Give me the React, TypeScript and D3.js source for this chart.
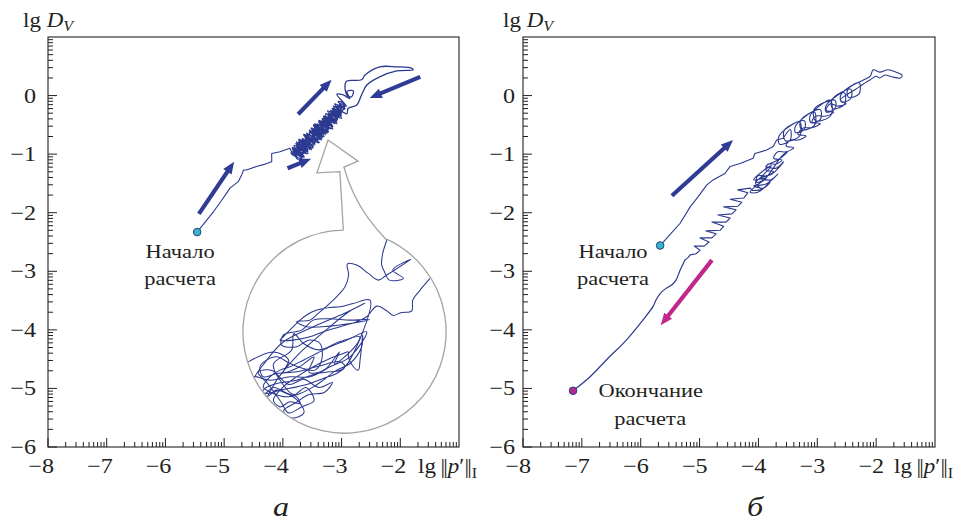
import React, { useEffect, useRef } from "react";
import * as d3 from "d3";

type Pt = [number, number];

// axis ticks (lg values)
const xTickValues = [-8, -7, -6, -5, -4, -3, -2];
const yTickValues = [0, -1, -2, -3, -4, -5, -6];
const minorMultipliers = [2, 3, 4, 5, 6, 7, 8, 9];

// panel "а": trajectory (lg||p'||, lg D_V)
const trajAClimb: Pt[] = [
  [-5.46, -2.33], [-5.33, -2.17], [-5.18, -1.98], [-5.05, -1.8], [-4.9, -1.58], [-4.76, -1.47],
  [-4.7, -1.35], [-4.67, -1.27], [-4.62, -1.27], [-4.45, -1.21], [-4.3, -1.17], [-4.19, -1.13],
  [-4.19, -0.99], [-4.05, -0.96], [-3.88, -0.9], [-3.83, -1.01],
];
const trajAClusterUp: Pt[] = [
  [-3.76, -1.04], [-3.84, -0.9], [-3.65, -1.05], [-3.81, -0.91], [-3.64, -0.99], [-3.78, -0.82],
  [-3.58, -0.96], [-3.73, -0.89], [-3.58, -0.92], [-3.72, -0.74], [-3.5, -0.9], [-3.67, -0.75],
  [-3.47, -0.85], [-3.63, -0.67], [-3.52, -0.84], [-3.59, -0.65], [-3.38, -0.8], [-3.55, -0.67],
  [-3.37, -0.75], [-3.52, -0.56], [-3.34, -0.7], [-3.53, -0.63], [-3.3, -0.7], [-3.46, -0.48],
  [-3.26, -0.64], [-3.41, -0.55], [-3.22, -0.62], [-3.39, -0.43], [-3.19, -0.55], [-3.35, -0.43],
  [-3.15, -0.53], [-3.29, -0.35], [-3.21, -0.51], [-3.27, -0.31], [-3.08, -0.44], [-3.25, -0.37],
  [-3.07, -0.41], [-3.19, -0.25], [-3.03, -0.35], [-3.15, -0.25], [-3.0, -0.3], [-3.1, -0.18],
  [-2.95, -0.23], [-3.08, -0.26], [-3.02, -0.14], [-2.92, -0.18],
];
const trajAExcursion: Pt[] = [
  [-3.08, 0.02], [-2.97, 0.01], [-2.86, -0.05], [-2.91, 0.07], [-2.8, 0.08], [-2.83, -0.02],
  [-2.91, 0.01], [-2.94, 0.19], [-2.91, 0.25], [-2.66, 0.27], [-2.6, 0.35], [-2.35, 0.49],
  [-2.06, 0.49], [-1.81, 0.47], [-1.78, 0.44], [-2.06, 0.42], [-2.35, 0.32], [-2.57, 0.18],
  [-2.66, 0.01], [-2.74, -0.16], [-2.89, -0.22],
];
const trajAClusterDown: Pt[] = [
  [-2.91, -0.31], [-3.14, -0.18], [-3.0, -0.39], [-3.24, -0.26], [-3.08, -0.48], [-3.31, -0.35],
  [-3.15, -0.57], [-3.39, -0.45], [-3.24, -0.64], [-3.48, -0.5], [-3.33, -0.73], [-3.55, -0.59],
  [-3.39, -0.81], [-3.64, -0.66], [-3.49, -0.89], [-3.73, -0.75], [-3.57, -0.99], [-3.81, -0.85],
  [-3.67, -1.07], [-3.83, -0.95], [-3.75, -1.09],
];
const trajAClusterScribble: Pt[] = [
  [-3.8, -0.95], [-3.7, -1.02], [-3.74, -0.86], [-3.62, -0.88], [-3.69, -0.8], [-3.55, -0.92],
  [-3.6, -0.74], [-3.48, -0.8], [-3.58, -0.7], [-3.44, -0.76], [-3.5, -0.62], [-3.4, -0.72],
  [-3.47, -0.58], [-3.33, -0.66], [-3.42, -0.52], [-3.28, -0.6], [-3.36, -0.48], [-3.22, -0.58],
  [-3.33, -0.4], [-3.17, -0.5], [-3.26, -0.36], [-3.12, -0.44], [-3.22, -0.3], [-3.06, -0.38],
  [-3.16, -0.22], [-3.02, -0.28], [-3.12, -0.14], [-2.98, -0.2], [-3.06, -0.1], [-2.96, -0.14],
  [-3.2, -0.42], [-3.45, -0.68], [-3.66, -0.9], [-3.86, -0.98],
];
const trajAClusterMid: Pt[] = [
  [-3.68, -1.08], [-3.84, -0.88], [-3.63, -1.05], [-3.78, -0.86], [-3.6, -1.0], [-3.77, -0.79],
  [-3.57, -0.95], [-3.72, -0.76], [-3.51, -0.93], [-3.67, -0.73], [-3.48, -0.88], [-3.65, -0.67],
  [-3.45, -0.83], [-3.6, -0.64], [-3.39, -0.79], [-3.54, -0.6], [-3.34, -0.76], [-3.51, -0.55],
  [-3.32, -0.7], [-3.47, -0.51], [-3.27, -0.67], [-3.42, -0.48], [-3.23, -0.61], [-3.38, -0.42],
  [-3.19, -0.57], [-3.33, -0.39], [-3.16, -0.52], [-3.29, -0.35], [-3.12, -0.48], [-3.24, -0.32],
  [-3.08, -0.42], [-3.19, -0.27], [-3.04, -0.38], [-3.14, -0.24], [-3.01, -0.33], [-3.1, -0.2],
  [-2.98, -0.28], [-3.05, -0.17], [-2.94, -0.22], [-3.12, -0.3], [-3.3, -0.5], [-3.5, -0.72],
  [-3.7, -0.92], [-3.8, -1.0],
];
const trajAClusterEnd: Pt[] = [
  [-3.77, -0.91], [-3.62, -0.96], [-3.73, -0.79], [-3.55, -0.87], [-3.62, -0.72], [-3.45, -0.81],
  [-3.55, -0.63], [-3.38, -0.7], [-3.46, -0.56], [-3.29, -0.63], [-3.37, -0.49], [-3.21, -0.55],
  [-3.31, -0.39], [-3.14, -0.46], [-3.19, -0.31], [-3.01, -0.35], [-3.05, -0.19], [-2.95, -0.19],
];

// magnified inset of panel "а", in circle units (u right, v up, radius 1)
const insetA: Pt[] = [
  [0.415, 0.895], [0.376, 0.77], [0.366, 0.655], [0.389, 0.599], [0.442, 0.507], [0.58, 0.524],
  [0.475, 0.606], [0.652, 0.711], [0.415, 0.557], [0.333, 0.507], [0.235, 0.573], [0.12, 0.655],
  [0.028, 0.665], [0.041, 0.557], [0.005, 0.442], [-0.084, 0.337], [-0.176, 0.251], [-0.268, 0.172],
  [-0.34, 0.113], [-0.471, 0.097], [-0.373, 0.048], [-0.143, 0.054], [0.021, 0.074], [0.245, 0.12],
  [0.054, 0.113], [-0.143, 0.126], [-0.307, 0.113], [-0.422, 0.015], [-0.603, -0.034], [-0.619, -0.133],
  [-0.471, -0.149], [-0.356, -0.084], [-0.241, -0.117], [-0.225, -0.281], [-0.291, -0.379], [-0.406, -0.363],
  [-0.537, -0.314], [-0.668, -0.248], [-0.767, -0.281], [-0.832, -0.346], [-0.8, -0.445], [-0.668, -0.412],
  [-0.471, -0.396], [-0.274, -0.346], [-0.044, -0.297], [0.005, -0.346], [-0.077, -0.412], [-0.209, -0.461],
  [-0.34, -0.511], [-0.471, -0.544], [-0.635, -0.576], [-0.767, -0.609], [-0.865, -0.544], [-0.898, -0.445],
  [-0.734, -0.478], [-0.537, -0.445], [-0.34, -0.445], [-0.143, -0.346], [0.054, -0.248], [0.218, -0.002],
  [0.021, -0.084], [-0.143, -0.149], [-0.274, -0.215], [-0.406, -0.281], [-0.537, -0.346], [-0.635, -0.379],
  [-0.734, -0.445], [-0.8, -0.544], [-0.701, -0.609], [-0.57, -0.642], [-0.438, -0.609], [-0.307, -0.544],
  [-0.209, -0.478], [-0.077, -0.379], [0.054, -0.314], [0.169, -0.149], [0.179, -0.034], [0.153, -0.281],
  [0.136, -0.379], [0.087, -0.346], [0.038, -0.248], [0.038, -0.199], [-0.011, -0.215], [-0.143, -0.264],
  [-0.307, -0.346], [-0.471, -0.445], [-0.603, -0.544], [-0.701, -0.675], [-0.635, -0.741], [-0.537, -0.691],
  [-0.438, -0.708], [-0.471, -0.642], [-0.57, -0.609], [-0.668, -0.576], [-0.767, -0.642], [-0.8, -0.576],
  [-0.668, -0.511], [-0.471, -0.478], [-0.274, -0.412], [-0.143, -0.396], [-0.011, -0.363], [0.251, 0.31],
  [0.087, 0.277], [-0.044, 0.245], [-0.143, 0.238], [-0.274, 0.212], [-0.373, 0.163], [-0.438, 0.113],
  [-0.603, -0.051], [-0.635, -0.084], [-0.504, -0.084], [-0.34, -0.051], [-0.209, -0.002], [-0.044, 0.048],
  [0.12, 0.097], [0.218, 0.146], [0.317, 0.251], [0.415, 0.205], [0.481, 0.159], [0.553, 0.186],
  [0.662, 0.205], [0.672, 0.31], [0.744, 0.409], [0.842, 0.524],
];
const insetA2: Pt[] = [
  [-0.95, -0.3], [-0.7, -0.2], [-0.55, -0.28], [-0.6, -0.4], [-0.45, -0.35], [-0.3, -0.25],
  [-0.35, -0.4], [-0.2, -0.38], [-0.05, -0.2], [-0.1, -0.32], [0.1, -0.15], [0.15, -0.05],
  [-0.05, -0.1], [-0.25, -0.18], [-0.4, -0.12], [-0.5, -0.02], [-0.52, -0.18], [-0.7, -0.32],
  [-0.62, -0.5], [-0.5, -0.62], [-0.38, -0.55], [-0.3, -0.68], [-0.42, -0.74], [-0.55, -0.8],
  [-0.62, -0.7], [-0.75, -0.52], [-0.85, -0.4], [-0.72, -0.38], [-0.55, -0.52], [-0.4, -0.47],
  [-0.25, -0.55], [-0.12, -0.5], [-0.2, -0.6], [-0.35, -0.62], [-0.48, -0.7], [-0.6, -0.78],
  [-0.52, -0.85], [-0.4, -0.8], [-0.46, -0.68], [-0.58, -0.6], [-0.7, -0.55], [-0.8, -0.62],
  [-0.9, -0.5], [-0.78, -0.3], [-0.6, -0.1], [-0.3, 0.05], [0.0, 0.18], [0.2, 0.28], [0.05, 0.2],
  [-0.2, 0.0], [-0.45, -0.22], [-0.65, -0.45], [-0.82, -0.7], [-0.95, -0.6],
];
// grey callout outline (stem + arrowhead) and the magnifier circle, in data units
const calloutA: Pt[] = [
  [-2.97, -2.3], [-3.0, -1.78], [-3.03, -1.3], [-3.42, -1.32], [-3.23, -0.76], [-2.72, -1.12],
  [-2.96, -1.22], [-2.89, -1.44], [-2.8, -1.66], [-2.69, -1.87], [-2.55, -2.09], [-2.4, -2.28],
  [-2.23, -2.47],
];
const calloutCenterA: Pt = [-2.95, -4.03];
const calloutRadiusA = 1.73;

const arrowsA: { from: Pt; to: Pt }[] = [
  { from: [-5.43, -2.02], to: [-4.83, -1.13] },
  { from: [-3.74, -0.32], to: [-3.17, 0.27] },
  { from: [-1.66, 0.32], to: [-2.52, -0.04] },
  { from: [-3.92, -1.24], to: [-3.52, -1.08] },
];
const startA: Pt = [-5.46, -2.33];
const labelsA: { text: string; at: Pt }[] = [
  { text: "Начало", at: [-5.75, -2.77] },
  { text: "расчета", at: [-5.75, -3.23] },
];

// panel "б"
const trajBUpper: Pt[] = [
  [-5.67, -2.56], [-5.5, -2.37], [-5.33, -2.18], [-5.16, -1.9], [-5.02, -1.72], [-4.88, -1.53],
  [-4.77, -1.44], [-4.57, -1.33], [-4.48, -1.21], [-4.31, -1.16], [-4.09, -1.07], [-4.06, -0.99],
  [-3.86, -0.93], [-3.75, -0.87], [-3.69, -0.76], [-3.58, -0.73],
];
const trajBBandUp: Pt[] = [
  [-3.46, -0.58], [-3.46, -0.76], [-3.64, -0.83], [-3.65, -0.69],
  [-3.3, -0.45], [-3.3, -0.69], [-3.54, -0.77], [-3.56, -0.59],
  [-3.22, -0.43], [-3.22, -0.58], [-3.37, -0.63], [-3.37, -0.52],
  [-3.05, -0.28], [-3.05, -0.51], [-3.27, -0.58], [-3.28, -0.42],
  [-2.95, -0.24], [-2.95, -0.41], [-3.11, -0.46], [-3.12, -0.34],
  [-2.78, -0.08], [-2.77, -0.34], [-3.03, -0.43], [-3.05, -0.23],
  [-2.7, -0.08], [-2.7, -0.23], [-2.85, -0.28], [-2.85, -0.17],
  [-2.54, 0.05], [-2.54, -0.15], [-2.74, -0.22], [-2.75, -0.07],
  [-2.43, 0.11], [-2.43, -0.05], [-2.59, -0.11], [-2.6, 0.01],
  [-2.29, 0.22], [-2.29, 0.03], [-2.47, -0.03], [-2.48, 0.11],
  [-2.21, 0.27], [-2.1, 0.33],
];
const trajBTop: Pt[] = [
  [-2.05, 0.44], [-1.94, 0.4], [-1.8, 0.44], [-1.66, 0.4], [-1.56, 0.35], [-1.59, 0.3],
  [-1.73, 0.32], [-1.85, 0.35], [-1.94, 0.3], [-2.0, 0.33], [-2.1, 0.27], [-2.17, 0.23], [-2.27, 0.16],
];
const trajBBandDown: Pt[] = [
  [-2.36, 0.1], [-2.51, 0.01], [-2.61, -0.08], [-2.51, -0.14], [-2.65, -0.18], [-2.78, -0.14],
  [-2.85, -0.25], [-2.72, -0.28], [-2.85, -0.35], [-3.02, -0.35], [-3.09, -0.45], [-2.95, -0.48],
  [-3.09, -0.55], [-3.23, -0.55], [-3.33, -0.66], [-3.19, -0.69], [-3.33, -0.76], [-3.46, -0.76],
  [-3.53, -0.86], [-3.4, -0.89], [-3.53, -0.96], [-3.67, -0.96], [-3.74, -1.07], [-3.6, -1.1],
  [-3.7, -1.17], [-3.84, -1.17], [-3.87, -1.27], [-3.74, -1.3], [-3.87, -1.37], [-4.01, -1.37],
  [-4.04, -1.48], [-3.91, -1.44],
];
const trajBCluster: Pt[] = [
  [-3.77, -1.27], [-3.6, -1.03], [-3.5, -0.96], [-3.67, -1.1], [-3.87, -1.2], [-3.7, -1.24],
  [-3.57, -1.13], [-3.77, -1.34], [-3.97, -1.41], [-3.8, -1.44], [-3.67, -1.34], [-3.87, -1.51],
  [-4.08, -1.54], [-3.91, -1.58], [-3.8, -1.48], [-4.01, -1.65], [-4.14, -1.65], [-4.04, -1.54],
  [-3.87, -1.41], [-4.08, -1.44], [-3.94, -1.3], [-3.78, -1.2], [-3.92, -1.36], [-4.05, -1.5],
  [-3.95, -1.6], [-4.1, -1.62],
];
const trajBSaw: Pt[] = [
  [-4.14, -1.58], [-4.35, -1.61], [-4.18, -1.66], [-4.25, -1.75], [-4.48, -1.77], [-4.28, -1.82],
  [-4.35, -1.89], [-4.59, -1.9], [-4.38, -1.95], [-4.45, -2.02], [-4.69, -2.04], [-4.48, -2.09],
  [-4.55, -2.16], [-4.79, -2.16], [-4.59, -2.23], [-4.65, -2.3], [-4.89, -2.31], [-4.72, -2.36],
  [-4.79, -2.43], [-4.99, -2.43], [-4.84, -2.5], [-4.92, -2.57], [-5.09, -2.57], [-4.99, -2.64],
  [-5.06, -2.7], [-5.16, -2.72], [-5.2, -2.77],
];
const trajBTail: Pt[] = [
  [-5.25, -2.81], [-5.33, -2.98], [-5.4, -3.15], [-5.47, -3.23], [-5.58, -3.3], [-5.67, -3.38],
  [-5.74, -3.49], [-5.79, -3.6], [-5.96, -3.83], [-6.24, -4.17], [-6.58, -4.51], [-6.86, -4.8],
  [-7.15, -5.04],
];
const arrowsB: { from: Pt; to: Pt }[] = [{ from: [-5.47, -1.71], to: [-4.43, -0.76] }];
const arrowBack: { from: Pt; to: Pt } = { from: [-4.79, -2.81], to: [-5.66, -3.92] };
const startB: Pt = [-5.67, -2.56];
const endB: Pt = [-7.15, -5.04];
const labelsB: { text: string; at: Pt }[] = [
  { text: "Начало", at: [-6.47, -2.77] },
  { text: "расчета", at: [-6.47, -3.23] },
  { text: "Окончание", at: [-5.83, -5.14] },
  { text: "расчета", at: [-5.84, -5.62] },
];

const NAVY = "#2b3990";
const ARROW = "#2f3b95";
const MAGENTA = "#c0288c";
const INK = "#231f20";
const GREY = "#a3a3a3";
const FONT = "'Liberation Serif', 'Times New Roman', 'DejaVu Serif', serif";
const SX = 1.15; // the printed font runs wider than Times
const TOP = 37;
const BOTTOM = 447;

function txt(g: any, x: number, y: number, size: number, anchor = "start") {
  return g
    .append("text")
    .attr("transform", `translate(${x},${y}) scale(${SX},1)`)
    .attr("font-size", size)
    .attr("font-family", FONT)
    .attr("text-anchor", anchor)
    .attr("fill", INK);
}

function drawArrow(g: any, x: any, y: any, a: { from: Pt; to: Pt }, color: string, w: number) {
  const x1 = x(a.from[0]), y1 = y(a.from[1]);
  const x2 = x(a.to[0]), y2 = y(a.to[1]);
  const L = Math.hypot(x2 - x1, y2 - y1);
  const ux = (x2 - x1) / L, uy = (y2 - y1) / L;
  const head = 12, half = 5;
  const bx = x2 - ux * head, by = y2 - uy * head;
  g.append("line")
    .attr("x1", x1).attr("y1", y1)
    .attr("x2", bx + ux).attr("y2", by + uy)
    .attr("stroke", color).attr("stroke-width", w);
  g.append("path")
    .attr("d", `M${x2},${y2}L${bx - uy * half},${by + ux * half}L${bx + uy * half},${by - ux * half}Z`)
    .attr("fill", color);
}

function drawMarker(g: any, x: any, y: any, p: Pt, fill: string) {
  g.append("circle")
    .attr("cx", x(p[0])).attr("cy", y(p[1])).attr("r", 3.8)
    .attr("fill", fill).attr("stroke", NAVY).attr("stroke-width", 1);
}

function trace(g: any, d: string | null, w = 1.1) {
  g.append("path").attr("d", d as string)
    .attr("fill", "none").attr("stroke", NAVY).attr("stroke-width", w)
    .attr("stroke-linejoin", "round").attr("stroke-linecap", "round");
}

function drawFrame(g: any, x: any, y: any, cfg: any) {
  const [x0, x1] = x.range();
  g.append("rect")
    .attr("x", x0).attr("y", TOP).attr("width", x1 - x0).attr("height", BOTTOM - TOP)
    .attr("fill", "none").attr("stroke", INK).attr("stroke-width", 1.1);

  const ticks = g.append("g").attr("stroke", INK).attr("stroke-width", 1);
  // x: majors + log minors, pointing inwards
  for (const d of xTickValues) {
    ticks.append("line").attr("x1", x(d)).attr("x2", x(d)).attr("y1", BOTTOM).attr("y2", BOTTOM - 9);
    for (const k of minorMultipliers) {
      const v = d + Math.log10(k);
      ticks.append("line").attr("x1", x(v)).attr("x2", x(v)).attr("y1", BOTTOM).attr("y2", BOTTOM - 5);
    }
  }
  for (let d = -6; d <= 0; d++) {
    ticks.append("line").attr("x1", x0).attr("x2", x0 + 9).attr("y1", y(d)).attr("y2", y(d));
    for (const k of minorMultipliers) {
      const v = d + Math.log10(k);
      ticks.append("line").attr("x1", x0).attr("x2", x0 + 5).attr("y1", y(v)).attr("y2", y(v));
    }
  }

  const fmt = (v: number) => (v < 0 ? "\u2212" + Math.abs(v) : String(v));
  for (const v of xTickValues) {
    txt(g, x(v) + cfg.xLabelShift, 473, 21, "end").text(fmt(v));
  }
  for (const v of yTickValues) {
    txt(g, cfg.yLabelEnd, y(v) + 7, 21, "end").text(fmt(v));
  }

  const yt = txt(g, cfg.yTitleX, 27, 20);
  yt.append("tspan").text("lg ");
  yt.append("tspan").attr("font-style", "italic").text("D");
  yt.append("tspan").attr("font-style", "italic").attr("font-size", 14).attr("dy", 4).text("V");

  const xt = txt(g, x1 - 41, 473, 20);
  xt.append("tspan").text("lg\u2009");
  xt.append("tspan").attr("letter-spacing", -1.6).text("||");
  xt.append("tspan").attr("font-style", "italic").attr("dx", 1.6).text("p");
  xt.append("tspan").text("\u2032");
  xt.append("tspan").attr("letter-spacing", -1.6).text("||");
  xt.append("tspan").attr("font-size", 14).attr("dx", 1.6).attr("dy", 5).text("I");

  txt(g, cfg.letterX, 516, 28, "middle").attr("font-style", "italic").text(cfg.letter);
}

export default function App() {
  const ref = useRef<SVGSVGElement | null>(null);

  useEffect(() => {
    const svg = d3.select(ref.current);
    svg.selectAll("*").remove();
    const smooth = d3.curveCatmullRom.alpha(0.5);

    // ---------- panel а ----------
    const xA = d3.scaleLinear().domain([-8, -1]).range([48, 459]);
    const yA = d3.scaleLinear().domain([-6, 1]).range([BOTTOM, TOP]);
    const gA = svg.append("g");
    const lineA = d3.line<Pt>().x((d) => xA(d[0])).y((d) => yA(d[1]));

    // callout + magnifier circle
    const cx = xA(calloutCenterA[0]), cy = yA(calloutCenterA[1]);
    const r = xA(calloutCenterA[0] + calloutRadiusA) - cx;
    const pts = calloutA.map((p) => [xA(p[0]), yA(p[1])]);
    const p = d3.path();
    p.moveTo(pts[0][0], pts[0][1]);
    pts.slice(1).forEach((q) => p.lineTo(q[0], q[1]));
    const last = pts[pts.length - 1];
    const aEnd = Math.atan2(last[1] - cy, last[0] - cx);
    const aStart = Math.atan2(pts[0][1] - cy, pts[0][0] - cx) + 2 * Math.PI;
    p.arc(cx, cy, r, aEnd, aStart, false);
    p.closePath();
    gA.append("path").attr("d", p.toString()).attr("fill", "#fff")
      .attr("stroke", GREY).attr("stroke-width", 1.3).attr("stroke-linejoin", "miter");

    svg.append("defs").append("clipPath").attr("id", "insetClip")
      .append("circle").attr("cx", cx).attr("cy", cy).attr("r", r - 0.8);
    const uS = d3.scaleLinear().domain([-1, 1]).range([cx - r, cx + r]);
    const vS = d3.scaleLinear().domain([-1, 1]).range([cy + r, cy - r]);
    const insetLine = d3.line<Pt>().x((d) => uS(d[0])).y((d) => vS(d[1])).curve(smooth);
    const gIn = gA.append("g").attr("clip-path", "url(#insetClip)");
    trace(gIn, insetLine(insetA), 1.05);
    trace(gIn, insetLine(insetA2), 1.05);

    trace(gA, lineA(trajAClimb));
    const cluster = [
      ...trajAClimb.slice(-1), ...trajAClusterUp, ...trajAExcursion, ...trajAClusterDown,
      ...trajAClusterScribble, ...trajAClusterMid, ...trajAClusterEnd,
    ];
    trace(gA, lineA.curve(smooth)(cluster), 1.3);

    arrowsA.forEach((a) => drawArrow(gA, xA, yA, a, ARROW, 4.2));
    drawMarker(gA, xA, yA, startA, "#37b6c6");
    labelsA.forEach((l) => txt(gA, xA(l.at[0]), yA(l.at[1]), 19.5, "middle").text(l.text));

    drawFrame(gA, xA, yA, { xLabelShift: 6, yLabelEnd: 36, yTitleX: 23, letter: "а", letterX: 281 });

    // ---------- panel б ----------
    const xB = d3.scaleLinear().domain([-8, -1]).range([523, 935]);
    const yB = d3.scaleLinear().domain([-6, 1]).range([BOTTOM, TOP]);
    const gB = svg.append("g");
    const lineB = d3.line<Pt>().x((d) => xB(d[0])).y((d) => yB(d[1]));
    trace(gB, lineB(trajBUpper));
    const loops = [...trajBUpper.slice(-1), ...trajBBandUp, ...trajBTop, ...trajBBandDown, ...trajBCluster];
    trace(gB, lineB.curve(smooth)(loops));
    trace(gB, lineB.curve(d3.curveLinear)([...trajBCluster.slice(-1), ...trajBSaw, trajBTail[0]]));
    trace(gB, lineB.curve(smooth)(trajBTail), 1.2);

    arrowsB.forEach((a) => drawArrow(gB, xB, yB, a, ARROW, 4.2));
    drawArrow(gB, xB, yB, arrowBack, MAGENTA, 4.2);
    drawMarker(gB, xB, yB, startB, "#37b6c6");
    drawMarker(gB, xB, yB, endB, "#b32b8c");
    labelsB.forEach((l) => txt(gB, xB(l.at[0]), yB(l.at[1]), 19.5, "middle").text(l.text));

    drawFrame(gB, xB, yB, { xLabelShift: 8, yLabelEnd: 515, yTitleX: 503, letter: "б", letterX: 755 });

    return () => {
      svg.selectAll("*").remove();
    };
  }, []);

  return (
    <div style={{ position: "absolute", left: 0, top: 0 }}>
      <svg ref={ref} width={966} height={521} style={{ display: "block", background: "#fff" }} />
    </div>
  );
}
